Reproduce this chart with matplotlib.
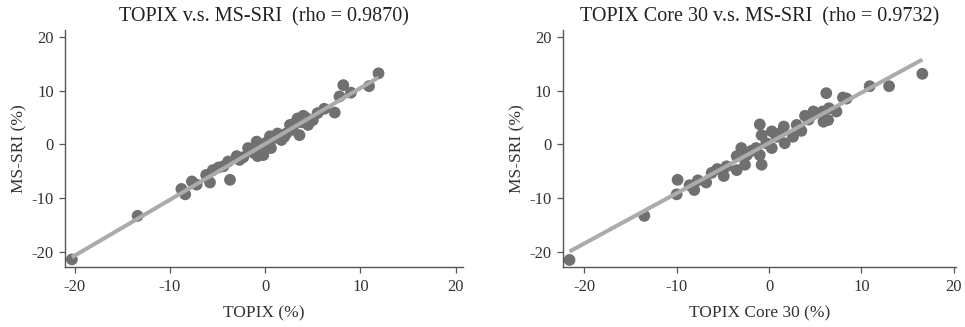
import matplotlib
matplotlib.use('Agg')
import matplotlib.pyplot as plt
import numpy as np

# monthly returns (%)
topix_x = [-20.3, -13.4, -8.8, -8.4, -7.7, -6.2, -5.8, -5.5, -4.4, -3.7, -3.9, -3.0,
           -2.3, -1.8, -0.9, -0.8, -0.2, -0.4, 0.5, 0.6, 1.3, 1.7, 2.6, 2.9, 3.4, 3.6,
           4.0, 4.5, 5.0, 5.5, 6.2, 7.3, 7.8, 8.2, 9.0, 10.9, 11.9,
           -1.2, 0.1, 1.0, 2.2, 3.1, 3.8, 4.3, -2.7, -1.5, -7.2, -4.9, 2.0]
topix_y = [-21.4, -13.3, -8.3, -9.3, -6.9, -5.7, -7.1, -4.8, -4.1, -6.6, -3.2, -2.2,
           -2.4, -0.7, 0.5, -2.2, -2.0, -0.4, 1.5, -0.7, 2.0, 0.8, 3.6, 2.7, 4.8, 1.7,
           5.3, 3.6, 4.5, 5.8, 6.6, 5.9, 8.9, 11.0, 9.6, 10.8, 13.2,
           -1.6, 0.3, 1.2, 2.0, 3.9, 4.1, 4.9, -2.9, -1.0, -7.5, -4.3, 1.4]

core30_x = [-21.6, -13.5, -10.0, -9.9, -8.6, -8.1, -7.7, -6.8, -6.2, -4.9, -4.6, -3.5,
            -3.5, -3.0, -2.6, -2.4, -1.4, -1.0, -0.8, -1.0, -0.8, -0.3, 0.3, 0.3, 0.8,
            1.6, 1.7, 2.6, 3.0, 3.5, 3.9, 4.8, 5.8, 5.9, 6.2, 6.4, 6.5, 7.3, 8.0, 8.4,
            10.9, 13.0, 16.6, -5.6, -1.9, 1.1, 4.3]
core30_y = [-21.5, -13.3, -9.3, -6.6, -7.6, -8.5, -6.7, -7.1, -5.3, -5.9, -4.1, -4.8,
            -2.2, -0.7, -3.8, -2.0, -0.7, 3.7, -3.8, -2.0, 1.7, 0.2, 2.4, -0.7, 1.4,
            3.3, 0.2, 1.4, 3.6, 2.5, 5.3, 6.1, 6.1, 4.2, 9.5, 4.5, 6.7, 6.1, 8.7, 8.5,
            10.8, 10.8, 13.1, -4.6, -1.2, 2.0, 4.6]

titles = ['TOPIX v.s. MS-SRI  (rho = 0.9870)', 'TOPIX Core 30 v.s. MS-SRI  (rho = 0.9732)']
xlabels = ['TOPIX (%)', 'TOPIX Core 30 (%)']
ylabel = 'MS-SRI (%)'
ticks = [-20, -10, 0, 10, 20]

plt.rcParams['font.family'] = ['Liberation Serif', 'DejaVu Serif']
plt.rcParams['axes.unicode_minus'] = False  # plain hyphen like the original

fig = plt.figure(figsize=(9.65, 3.27), dpi=100)
ax1 = fig.add_axes([0.0674, 0.182, 0.4124, 0.7263])
ax2 = fig.add_axes([0.5831, 0.182, 0.4076, 0.7263])

panels = [(ax1, topix_x, topix_y, (-21.02, 20.77)),
          (ax2, core30_x, core30_y, (-22.34, 20.25))]

for i, (ax, x, y, xlim) in enumerate(panels):
    x = np.array(x)
    y = np.array(y)
    ax.scatter(x, y, s=72, color='#707070', edgecolors='none', zorder=2)
    # fitted line over the data range
    slope, intercept = np.polyfit(x, y, 1)
    xs = np.array([x.min(), x.max()])
    ax.plot(xs, slope * xs + intercept, color='#ababab', linewidth=2.9, zorder=3,
            solid_capstyle='butt')

    ax.set_xlim(xlim)
    ax.set_ylim(-22.9, 21.25)
    ax.set_xticks(ticks)
    ax.set_yticks(ticks)
    ax.set_title(titles[i], fontsize=14.5, color='#222222', pad=6)
    ax.set_xlabel(xlabels[i], fontsize=12.5, color='#333333', labelpad=8)
    ax.set_ylabel(ylabel, fontsize=12.5, color='#333333', labelpad=3)
    ax.spines['top'].set_visible(False)
    ax.spines['right'].set_visible(False)
    for s in ['left', 'bottom']:
        ax.spines[s].set_color('#555555')
        ax.spines[s].set_linewidth(1.0)
    ax.tick_params(direction='out', length=4, width=0.9, color='#555555',
                   labelsize=12, labelcolor='#333333', pad=4)

plt.savefig('out.png', dpi=100)
